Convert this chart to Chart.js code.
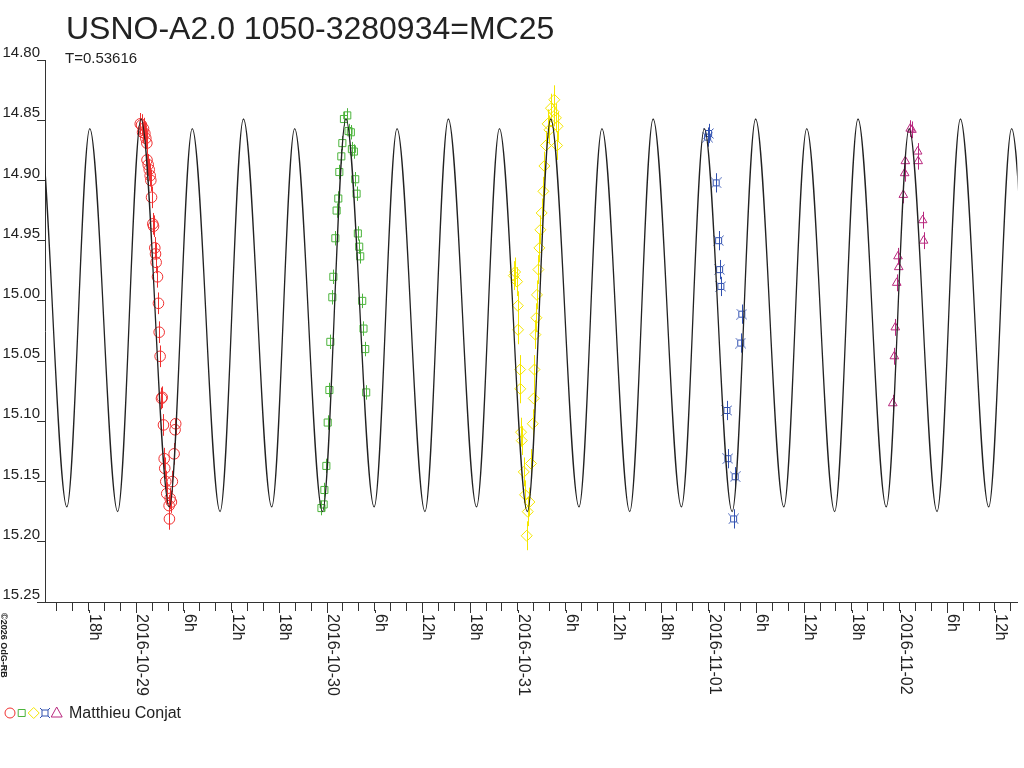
<!DOCTYPE html>
<html>
<head>
<meta charset="utf-8">
<script src="https://cdn.jsdelivr.net/npm/chart.js@4.4.1/dist/chart.umd.min.js"></script>
<style>
  html, body { margin: 0; padding: 0; background: #fff; }
</style>
</head>
<body>
<canvas id="lc" width="1024" height="768"></canvas>
<script>
const chartTitle = 'USNO-A2.0 1050-3280934=MC25';
const periodText = 'T=0.53616';
const observer = 'Matthieu Conjat';
const credit = '\u00a92026 OdG-RB';

// time axis in hours from 2016-10-29 00:00
const xMin = -11.48, xMax = 110.84;
const yMin = 14.80, yMax = 15.25, yStep = 0.05;
const dateLabels = ['2016-10-29', '2016-10-30', '2016-10-31', '2016-11-01', '2016-11-02'];
const hourLabels = ['', '6h', '12h', '18h'];

// fitted light curve, turning points
const modelT = [
  -15.24,
  -12.29, -8.73, -5.85, -2.34,
  0.60, 4.16, 7.04, 10.54,
  13.48, 17.04, 19.92, 23.42,
  26.37, 29.92, 32.80, 36.31,
  39.25, 42.80, 45.68, 49.19,
  52.13, 55.69, 58.57, 62.07,
  65.01, 68.57, 71.45, 74.95,
  77.90, 81.45, 84.33, 87.84,
  90.78, 94.33, 97.21, 100.72,
  103.66, 107.22, 110.10, 113.65,
  116.59
];
const modelMag = [
  15.175,
  14.849, 15.171, 14.857, 15.175,
  14.849, 15.171, 14.857, 15.175,
  14.849, 15.171, 14.857, 15.175,
  14.849, 15.171, 14.857, 15.175,
  14.849, 15.171, 14.857, 15.175,
  14.849, 15.171, 14.857, 15.175,
  14.849, 15.171, 14.857, 15.175,
  14.849, 15.171, 14.857, 15.175,
  14.849, 15.171, 14.857, 15.175,
  14.849, 15.171, 14.857, 15.175,
  14.849
];

// night 1 (red circles)
const n1T = [0.50, 0.66, 0.79, 0.91, 1.08, 1.20, 1.33, 1.35, 1.50, 1.63, 1.75, 1.83, 1.92, 2.08, 2.17, 2.33, 2.42, 2.50,
  2.67, 2.79, 2.88, 3.00, 3.17, 3.26, 3.42, 3.51, 3.58, 3.71, 3.83, 4.13, 4.17, 4.26, 4.42, 4.54, 4.76, 4.88, 4.96];
const n1Mag = [14.853, 14.854, 14.860, 14.857, 14.861, 14.865, 14.869, 14.883, 14.887, 14.891, 14.896, 14.900, 14.914, 14.936, 14.938, 14.956, 14.961, 14.968,
  14.980, 15.002, 15.026, 15.046, 15.081, 15.080, 15.103, 15.131, 15.139, 15.150, 15.160, 15.170, 15.181, 15.164, 15.167, 15.150, 15.127, 15.107, 15.102];

// night 2 (green squares)
const n2T = [23.29, 23.57, 23.66, 23.91, 24.08, 24.29, 24.41, 24.66, 24.79, 25.04, 25.20, 25.41, 25.54, 25.79, 25.92,
  26.12, 26.54, 26.70, 26.99, 27.12, 27.37, 27.54, 27.71, 27.87, 28.04, 28.17, 28.42, 28.58, 28.80, 28.92];
const n2Mag = [15.172, 15.169, 15.157, 15.137, 15.101, 15.074, 15.034, 14.997, 14.980, 14.948, 14.925, 14.915, 14.893, 14.880, 14.869,
  14.849, 14.846, 14.859, 14.860, 14.874, 14.876, 14.899, 14.911, 14.944, 14.955, 14.963, 15.000, 15.023, 15.040, 15.076];

// night 3 (yellow diamonds)
const n3T = [47.49, 47.65, 47.90, 47.99, 48.02, 48.28, 48.30, 48.40, 48.49, 48.74, 48.90, 49.11, 49.24, 49.45, 49.65, 49.87, 49.99, 50.08,
  50.20, 50.33, 50.40, 50.58, 50.70, 50.83, 50.99, 51.21, 51.33, 51.53, 51.74, 51.96, 52.16, 52.49, 52.58, 52.78, 52.93, 52.99];
const n3Mag = [14.979, 14.976, 14.984, 15.004, 15.024, 15.057, 15.073, 15.109, 15.116, 15.142, 15.161, 15.195, 15.175, 15.167, 15.135, 15.102, 15.081, 15.057,
  15.028, 15.014, 14.995, 14.974, 14.956, 14.941, 14.927, 14.909, 14.888, 14.871, 14.853, 14.858, 14.840, 14.843, 14.833, 14.848, 14.871, 14.855];

// night 4 (blue stars)
const n4T = [71.86, 71.99, 72.94, 73.24, 73.37, 73.53, 74.29, 74.41, 75.13, 75.33, 76.03, 76.16];
const n4Mag = [14.864, 14.861, 14.902, 14.950, 14.974, 14.988, 15.091, 15.131, 15.181, 15.146, 15.035, 15.011];

// night 5 (magenta triangles)
const n5T = [95.15, 95.35, 95.47, 95.65, 95.81, 95.90, 96.48, 96.65, 96.73, 97.35, 97.56, 98.28, 98.35, 98.91, 99.03];
const n5Mag = [15.085, 15.046, 15.022, 14.985, 14.963, 14.972, 14.912, 14.894, 14.884, 14.857, 14.858, 14.876, 14.884, 14.933, 14.950];

const seriesErr = [0.009, 0.006, 0.012, 0.008, 0.007];

const FONT = '"Liberation Sans", Arial, sans-serif';
const TEXT = '#222';

function starMarker(color) {
  const c = document.createElement('canvas');
  c.width = 11; c.height = 11;
  const g = c.getContext('2d');
  g.strokeStyle = color;
  g.lineWidth = 1;
  g.beginPath();
  g.rect(2.5, 2.5, 6, 6);
  g.moveTo(0.5, 0.5); g.lineTo(2.5, 2.5);
  g.moveTo(10.5, 0.5); g.lineTo(8.5, 2.5);
  g.moveTo(0.5, 10.5); g.lineTo(2.5, 8.5);
  g.moveTo(10.5, 10.5); g.lineTo(8.5, 8.5);
  g.stroke();
  return c;
}

const pts = (t, m) => t.map((v, i) => ({ x: v, y: m[i] }));

const series = [
  { t: n1T, m: n1Mag, color: '#f03030', style: 'circle', r: 5.3 },
  { t: n2T, m: n2Mag, color: '#4cb43c', style: 'rect', r: 5 },
  { t: n3T, m: n3Mag, color: '#f4e600', style: 'rectRot', r: 5.5 },
  { t: n4T, m: n4Mag, color: '#3050b0', style: starMarker('#3050b0'), r: 5 },
  { t: n5T, m: n5Mag, color: '#b8287e', style: 'triangle', r: 5 }
];

const datasets = [{
  label: 'model',
  data: pts(modelT, modelMag),
  showLine: true,
  borderColor: '#222',
  borderWidth: 1.3,
  pointRadius: 0,
  cubicInterpolationMode: 'monotone'
}].concat(series.map((s, i) => ({
  label: observer + ' ' + (i + 1),
  data: pts(s.t, s.m),
  showLine: false,
  pointStyle: s.style,
  pointRadius: s.r,
  pointBorderWidth: 1,
  borderColor: s.color,
  backgroundColor: 'rgba(0,0,0,0)'
})));

function legendMarker(ctx, kind, x, y, color) {
  ctx.save();
  ctx.strokeStyle = color;
  ctx.lineWidth = 1;
  ctx.beginPath();
  if (kind === 0) ctx.arc(x, y, 5, 0, Math.PI * 2);
  else if (kind === 1) ctx.rect(x - 3.5, y - 3.5, 7, 7);
  else if (kind === 2) { ctx.moveTo(x, y - 5.5); ctx.lineTo(x + 5.5, y); ctx.lineTo(x, y + 5.5); ctx.lineTo(x - 5.5, y); ctx.closePath(); }
  else if (kind === 3) {
    ctx.rect(x - 3, y - 3, 6, 6);
    ctx.moveTo(x - 5, y - 5); ctx.lineTo(x - 3, y - 3);
    ctx.moveTo(x + 5, y - 5); ctx.lineTo(x + 3, y - 3);
    ctx.moveTo(x - 5, y + 5); ctx.lineTo(x - 3, y + 3);
    ctx.moveTo(x + 5, y + 5); ctx.lineTo(x + 3, y + 3);
  } else { ctx.moveTo(x, y - 6); ctx.lineTo(x + 5.5, y + 4); ctx.lineTo(x - 5.5, y + 4); ctx.closePath(); }
  ctx.stroke();
  ctx.restore();
}

const decor = {
  id: 'decor',
  beforeDatasetsDraw(chart) {
    const ctx = chart.ctx, ys = chart.scales.y;
    ctx.save();
    ctx.lineWidth = 1;
    series.forEach((s, i) => {
      const meta = chart.getDatasetMeta(i + 1);
      ctx.strokeStyle = s.color;
      ctx.beginPath();
      meta.data.forEach((p, j) => {
        const x = Math.round(p.x) + 0.5;
        ctx.moveTo(x, ys.getPixelForValue(s.m[j] - seriesErr[i]));
        ctx.lineTo(x, ys.getPixelForValue(s.m[j] + seriesErr[i]));
      });
      ctx.stroke();
    });
    ctx.restore();
  },
  afterDraw(chart) {
    const ctx = chart.ctx, xs = chart.scales.x;
    ctx.save();
    ctx.fillStyle = TEXT;
    ctx.textBaseline = 'alphabetic';
    ctx.textAlign = 'left';
    ctx.font = '32px ' + FONT;
    ctx.fillText(chartTitle, 66, 39);
    ctx.font = '15px ' + FONT;
    ctx.fillText(periodText, 65, 63);

    // time labels, read top to bottom
    ctx.font = '16px ' + FONT;
    ctx.strokeStyle = '#333';
    ctx.lineWidth = 1;
    xs.ticks.forEach(t => {
      const v = Math.round(t.value);
      if (v % 6 !== 0) return;
      const hr = ((v % 24) + 24) % 24;
      const text = hr === 0 ? dateLabels[Math.floor(v / 24)] : hourLabels[hr / 6];
      const px = Math.round(xs.getPixelForValue(v)) + 0.5;
      ctx.beginPath();
      ctx.moveTo(px, xs.top + 8);
      ctx.lineTo(px, xs.top + 11);
      ctx.stroke();
      ctx.save();
      ctx.translate(px + 0.5, xs.top + 12);
      ctx.rotate(Math.PI / 2);
      ctx.fillText(text, 0, 0);
      ctx.restore();
    });

    ctx.save();
    ctx.font = 'bold 9px ' + FONT;
    ctx.translate(1, 613);
    ctx.rotate(Math.PI / 2);
    ctx.fillText(credit, 0, 0);
    ctx.restore();

    const lx = [10, 21.7, 33.7, 45, 56.7];
    series.forEach((s, i) => legendMarker(ctx, i, lx[i], 713, s.color));
    ctx.fillStyle = TEXT;
    ctx.font = '16px ' + FONT;
    ctx.fillText(observer, 69, 718);
    ctx.restore();
  }
};

new Chart(document.getElementById('lc'), {
  type: 'scatter',
  data: { datasets },
  plugins: [decor],
  options: {
    responsive: false,
    animation: false,
    events: [],
    devicePixelRatio: 1,
    layout: { padding: { top: 60, left: 0, right: 2, bottom: 0 } },
    plugins: { legend: { display: false }, tooltip: { enabled: false } },
    scales: {
      x: {
        type: 'linear',
        min: xMin,
        max: xMax,
        ticks: { display: false, stepSize: 2, includeBounds: false, maxTicksLimit: 1000 },
        grid: { drawOnChartArea: false, drawTicks: true, tickLength: 9, tickColor: '#333' },
        border: { color: '#333' },
        afterFit(s) { s.height = 166; }
      },
      y: {
        type: 'linear',
        reverse: true,
        min: yMin,
        max: yMax,
        ticks: {
          stepSize: yStep,
          includeBounds: false,
          padding: -3,
          labelOffset: -7,
          color: TEXT,
          font: { family: FONT, size: 15 },
          callback: v => v.toFixed(2)
        },
        grid: { drawOnChartArea: false, drawTicks: true, tickLength: 8, tickColor: '#333' },
        border: { color: '#333' },
        afterFit(s) { s.width = 45; }
      }
    }
  }
});
</script>
</body>
</html>
